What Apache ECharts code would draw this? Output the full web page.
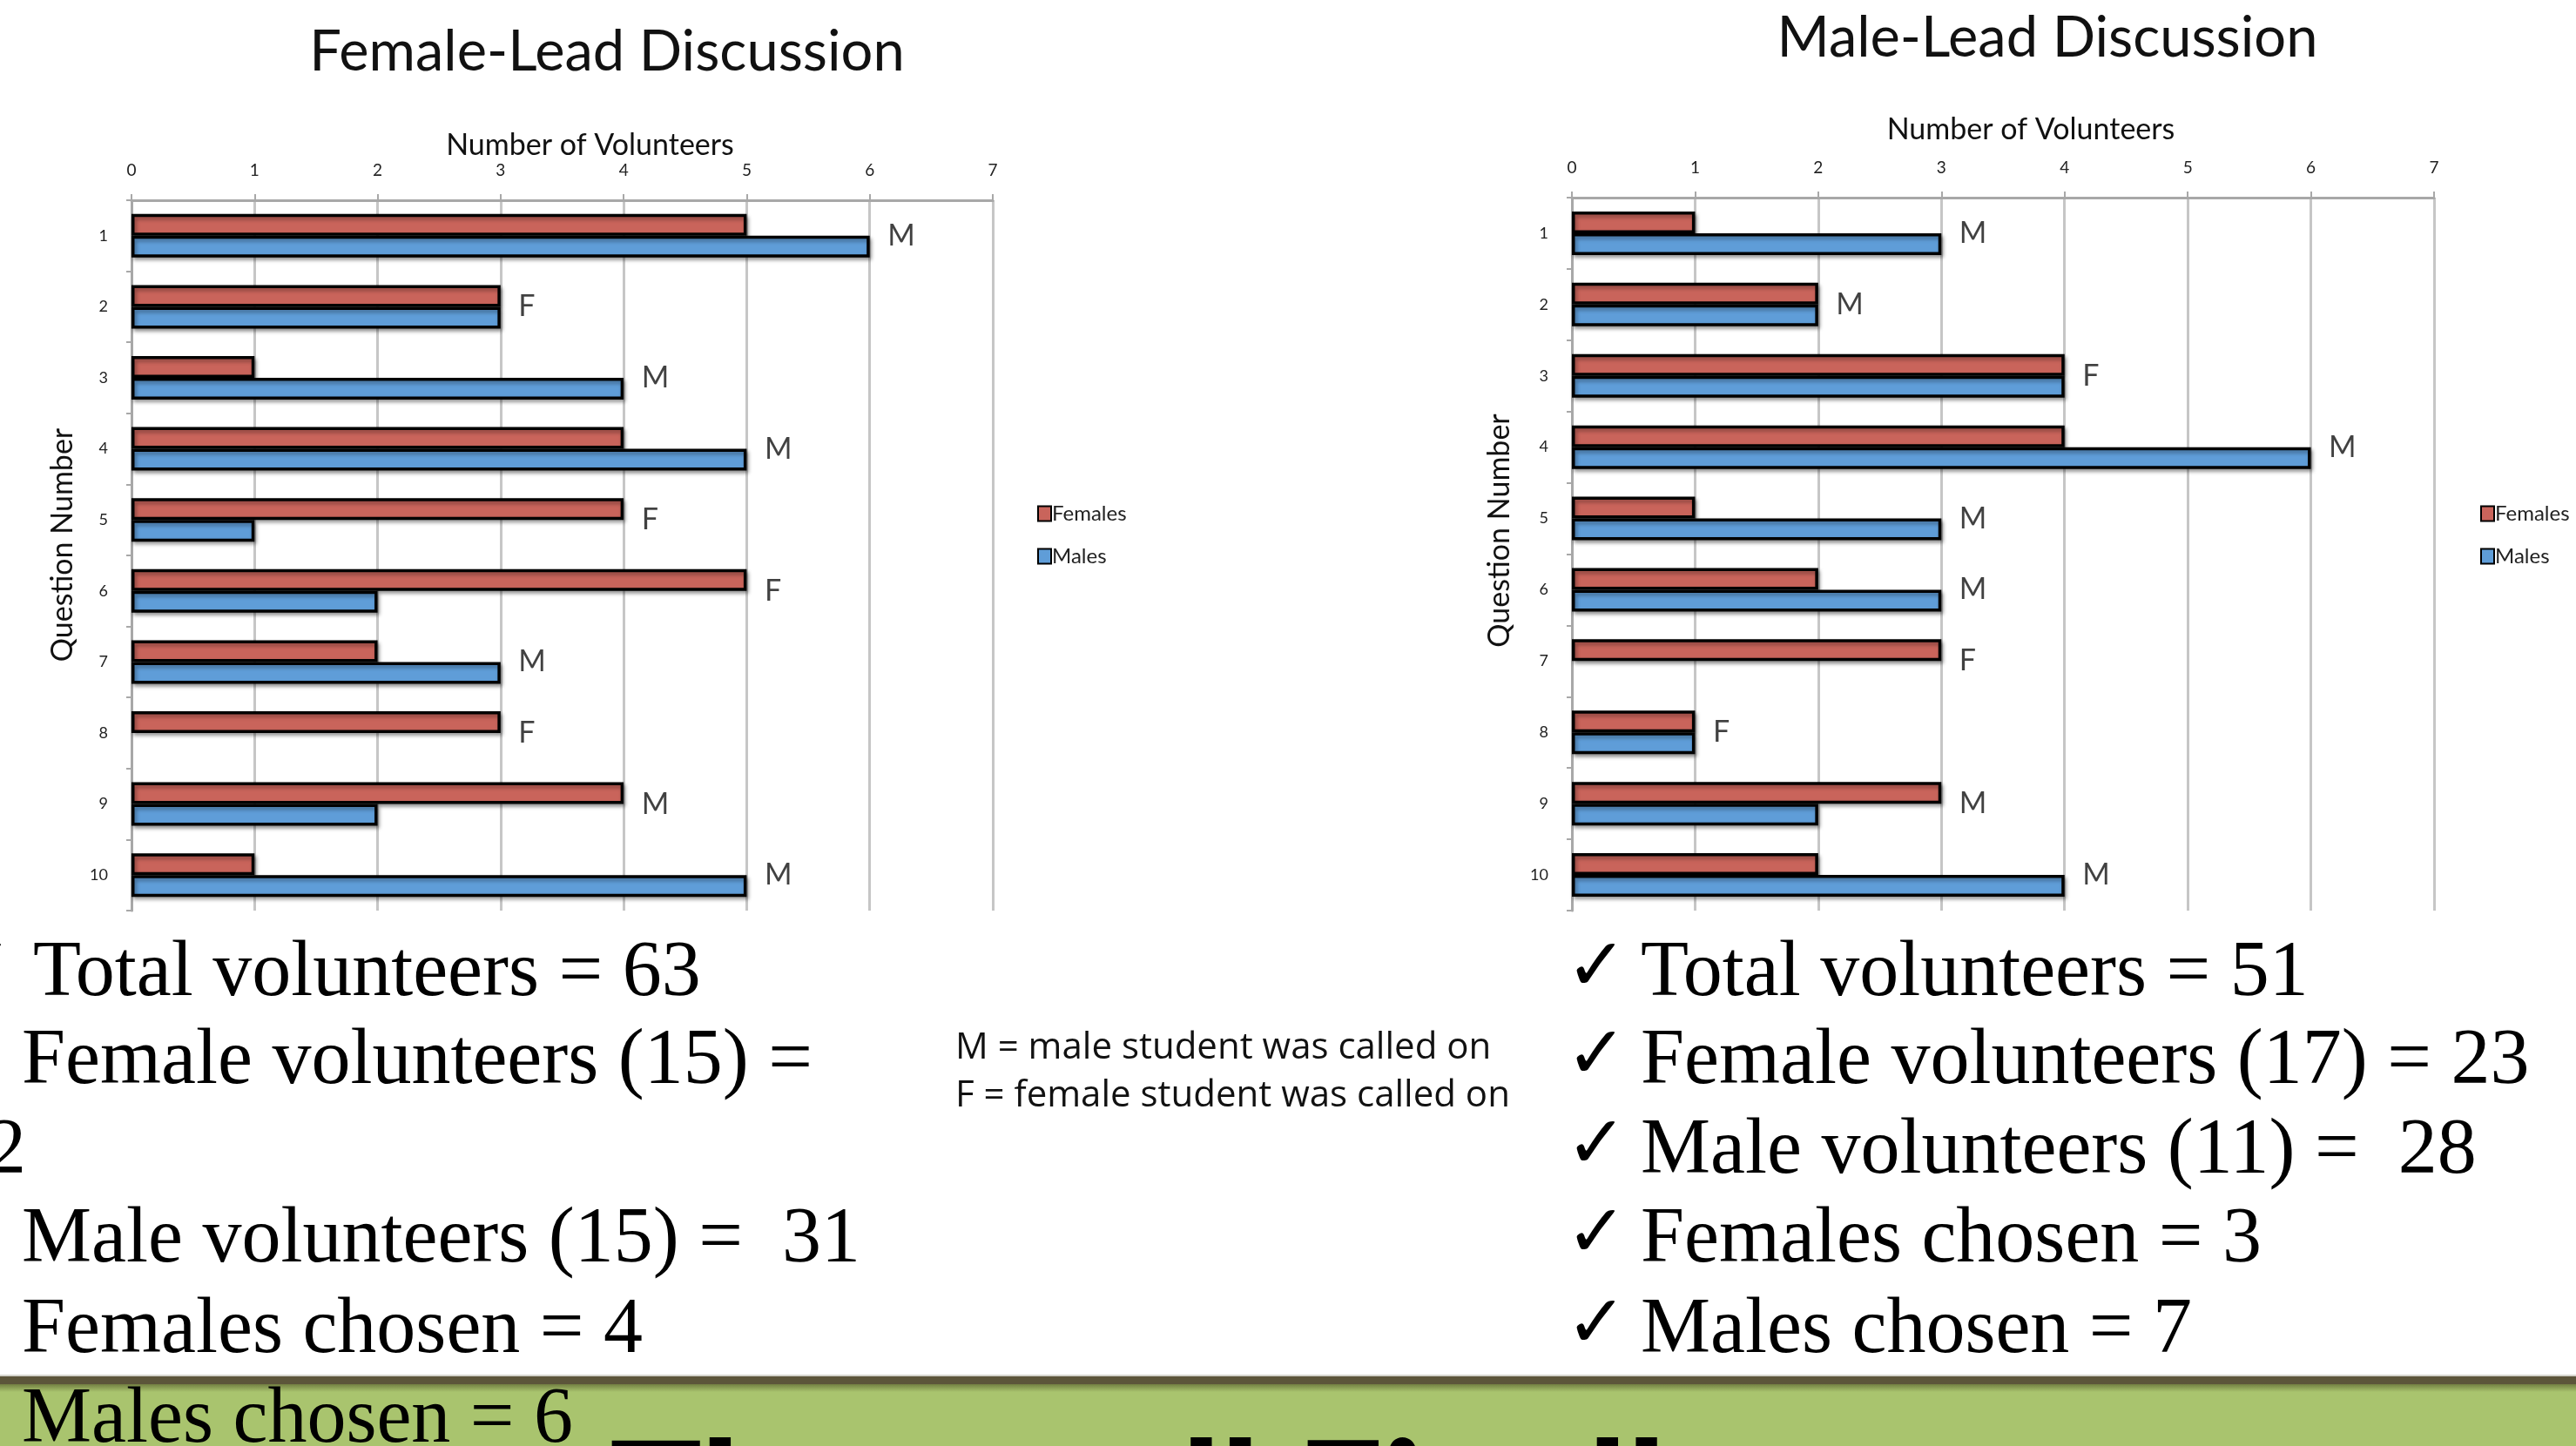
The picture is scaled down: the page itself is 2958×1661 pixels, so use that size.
<!DOCTYPE html>
<html>
<head>
<meta charset="utf-8">
<script src="https://cdn.jsdelivr.net/npm/echarts@6/dist/echarts.min.js"></script>
<style>
  html, body { margin: 0; padding: 0; background: #fff; }
  #main { width: 2958px; height: 1661px; }
</style>
</head>
<body>
<div id="main"></div>
<script type="text/javascript">
    // data
    var questions = ['1', '2', '3', '4', '5', '6', '7', '8', '9', '10'];

    var femaleLeadFemales = [5, 3, 1, 4, 4, 5, 2, 3, 4, 1];
    var femaleLeadMales   = [6, 3, 4, 5, 1, 2, 3, 0, 2, 5];
    var femaleLeadCalled  = ['M', 'F', 'M', 'M', 'F', 'F', 'M', 'F', 'M', 'M'];

    var maleLeadFemales = [1, 2, 4, 4, 1, 2, 3, 1, 3, 2];
    var maleLeadMales   = [3, 2, 4, 6, 3, 3, 0, 1, 2, 4];
    var maleLeadCalled  = ['M', 'M', 'F', 'M', 'M', 'M', 'F', 'F', 'M', 'M'];

    var leftNotes  = ['Total volunteers = 63', 'Female volunteers (15) =', '32', 'Male volunteers (15) =  31', 'Females chosen = 4', 'Males chosen = 6'];
    var rightNotes = ['Total volunteers = 51', 'Female volunteers (17) = 23', 'Male volunteers (11) =  28', 'Females chosen = 3', 'Males chosen = 7'];
    var keyNotes   = ['M = male student was called on', 'F = female student was called on'];

    var RED = '#C9645B';
    var BLUE = '#5F9DD8';
    var SANS = 'Lato';
    var SERIF = '"Liberation Serif"';

    var myChart = echarts.init(document.getElementById('main'), null, {renderer: 'canvas'});

    // zero bars get no outline (Excel draws nothing there)
    function bars(arr) {
        return arr.map(function (v) {
            return v === 0 ? {value: 0, itemStyle: {borderWidth: 0, shadowBlur: 0, shadowOffsetX: 0, shadowOffsetY: 0}} : v;
        });
    }
    // the M / F marks sit just past the longer bar of each question
    function marks(fem, mal) {
        return questions.map(function (q, i) {
            return [Math.max(fem[i], mal[i]), q];
        });
    }

    var barStyle = {
        borderColor: '#000',
        borderWidth: 3.5,
        shadowColor: 'rgba(0,0,0,0.35)',
        shadowBlur: 4,
        shadowOffsetX: 2,
        shadowOffsetY: 3
    };

    function xAxisFor(idx, gap) {
        return {
            type: 'value', gridIndex: idx, position: 'top',
            min: 0, max: 7, interval: 1,
            name: 'Number of Volunteers', nameLocation: 'middle', nameGap: gap,
            nameTextStyle: {fontFamily: SANS, fontSize: 34, color: '#111', padding: [0, 0, 0, 64]},
            axisLine: {show: true, lineStyle: {color: '#a8a8a8', width: 3}},
            axisTick: {show: true, length: 7, lineStyle: {color: '#a8a8a8', width: 2}},
            axisLabel: {fontFamily: SANS, fontSize: 19, color: '#222', margin: 25},
            splitLine: {show: true, lineStyle: {color: '#c6c6c6', width: 3}}
        };
    }
    function yAxisFor(idx, gap, lift) {
        return {
            type: 'category', gridIndex: idx, data: questions, inverse: true,
            name: 'Question Number', nameLocation: 'middle', nameGap: gap, nameRotate: 90,
            nameTextStyle: {fontFamily: SANS, fontSize: 34, color: '#111', padding: [0, 0, 0, lift]},
            axisLine: {show: true, lineStyle: {color: '#a8a8a8', width: 3}},
            axisTick: {show: true, length: 6, alignWithLabel: false, lineStyle: {color: '#a8a8a8', width: 2}},
            axisLabel: {fontFamily: SANS, fontSize: 18, color: '#222', margin: 27},
            splitLine: {show: false}
        };
    }
    function barSeries(name, color, data, idx) {
        return {
            name: name, type: 'bar', xAxisIndex: idx, yAxisIndex: idx,
            data: bars(data), barWidth: 25, barGap: '0%',
            itemStyle: Object.assign({color: color}, barStyle)
        };
    }
    function markSeries(fem, mal, called, idx) {
        return {
            name: 'called', type: 'scatter', xAxisIndex: idx, yAxisIndex: idx,
            data: marks(fem, mal), symbolSize: 1, silent: true, z: 5,
            itemStyle: {color: 'transparent'},
            label: {
                show: true, position: 'right', distance: 20,
                fontFamily: SANS, fontSize: 34, color: '#111',
                formatter: function (p) { return called[p.dataIndex]; }
            }
        };
    }
    function legendAt(left) {
        return {
            left: left, top: 573, orient: 'vertical', icon: 'rect',
            itemWidth: 15, itemHeight: 17, itemGap: 25,
            data: ['Females', 'Males'],
            textStyle: {fontFamily: SANS, fontSize: 24, color: '#222', padding: [0, 0, 0, -4]}
        };
    }

    var graphics = [];
    // green footer band
    graphics.push({type: 'rect', shape: {x: 0, y: 1579, width: 2958, height: 2}, style: {fill: '#d4d4cc'}, z: 1});
    graphics.push({type: 'rect', shape: {x: 0, y: 1581, width: 2958, height: 9}, style: {fill: '#5C553A'}, z: 1});
    graphics.push({type: 'rect', shape: {x: 0, y: 1590, width: 2958, height: 71}, style: {fill: '#A9C46E'}, z: 1});
    graphics.push({type: 'rect', shape: {x: 0, y: 1590, width: 2958, height: 9},
        style: {fill: new echarts.graphic.LinearGradient(0, 0, 0, 1, [
            {offset: 0, color: 'rgba(70,70,30,0.55)'}, {offset: 1, color: 'rgba(70,70,30,0)'}])}, z: 2});
    graphics.push({type: 'text', x: 700, y: 1725, z: 3,
        style: {text: 'The small Finally', font: '900 176px Lato', fill: '#000', verticalAlign: 'middle'}});

    // chart titles
    graphics.push({type: 'text', x: 697, y: 60, z: 3,
        style: {text: 'Female-Lead Discussion', font: '65px Lato', fill: '#111', align: 'center', verticalAlign: 'middle'}});
    graphics.push({type: 'text', x: 2351, y: 44, z: 3,
        style: {text: 'Male-Lead Discussion', font: '65px Lato', fill: '#111', align: 'center', verticalAlign: 'middle'}});

    // bullet text under the charts
    var FS = 90;
    var baselines = [1150, 1251, 1354, 1456, 1560, 1663];
    var leftX = [38, 25, -60, 25, 25, 25];
    var tick = {text: '\u2713', font: 'bold 84px "DejaVu Sans"', fill: '#000', verticalAlign: 'middle'};
    leftNotes.forEach(function (t, i) {
        var y = baselines[i] - 0.3375 * FS;
        graphics.push({type: 'text', x: leftX[i], y: y, z: 4,
            style: {text: t, font: FS + 'px ' + SERIF, fill: '#000', verticalAlign: 'middle'}});
        if (i !== 2) {
            graphics.push({type: 'text', x: leftX[i] - 93, y: y - 4, z: 4, style: tick});
        }
    });
    rightNotes.forEach(function (t, i) {
        var y = baselines[i] - 0.3375 * FS;
        graphics.push({type: 'text', x: 1884, y: y, z: 4,
            style: {text: t, font: FS + 'px ' + SERIF, fill: '#000', verticalAlign: 'middle'}});
        graphics.push({type: 'text', x: 1798, y: y - 4, z: 4, style: tick});
    });
    keyNotes.forEach(function (t, i) {
        graphics.push({type: 'text', x: 1097, y: [1219, 1274][i] - 0.36 * 42, z: 4,
            style: {text: t, font: '42px "Open Sans"', fill: '#111', verticalAlign: 'middle'}});
    });

    var option = {
        animation: false,
        backgroundColor: '#fff',
        grid: [
            {left: 151, top: 230, width: 989, height: 816, outerBoundsMode: 'none'},
            {left: 1805, top: 227, width: 990, height: 819, outerBoundsMode: 'none'}
        ],
        legend: [legendAt(1186), legendAt(2843)],
        xAxis: [xAxisFor(0, 46), xAxisFor(1, 61)],
        yAxis: [yAxisFor(0, 62, 24), yAxisFor(1, 66, 54)],
        series: [
            barSeries('Females', RED, femaleLeadFemales, 0),
            barSeries('Males', BLUE, femaleLeadMales, 0),
            markSeries(femaleLeadFemales, femaleLeadMales, femaleLeadCalled, 0),
            barSeries('Females', RED, maleLeadFemales, 1),
            barSeries('Males', BLUE, maleLeadMales, 1),
            markSeries(maleLeadFemales, maleLeadMales, maleLeadCalled, 1)
        ],
        graphic: graphics
    };
    myChart.setOption(option);
</script>
</body>
</html>
